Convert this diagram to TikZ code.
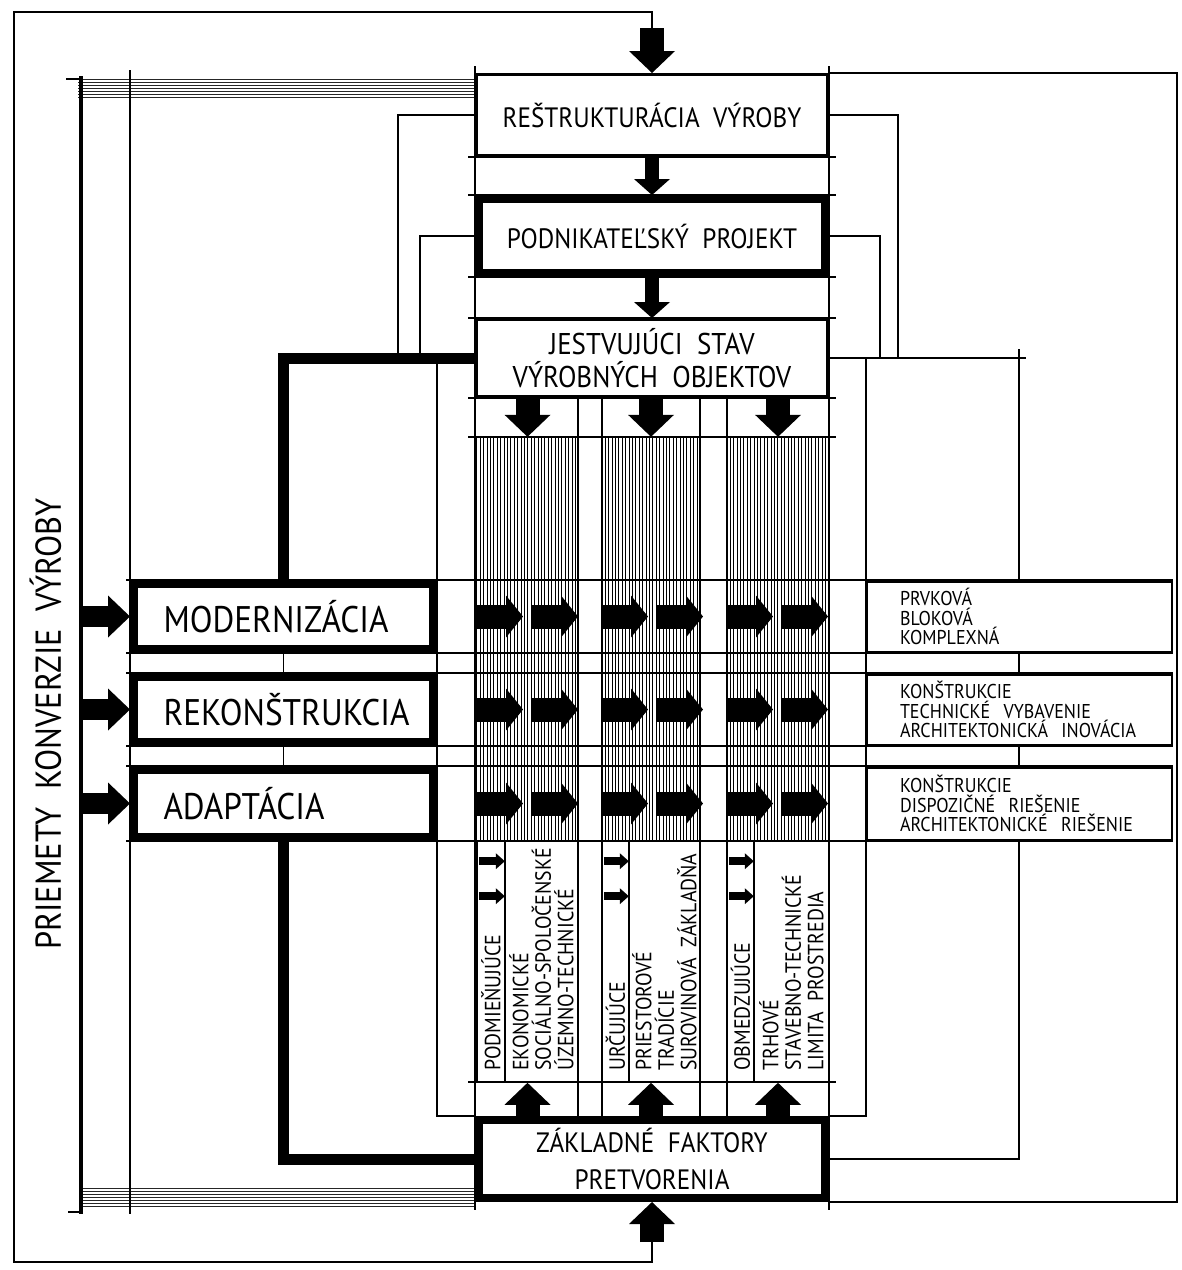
\documentclass[tikz,border=0pt]{standalone}
\usepackage{fontspec}
\setmainfont{PT Sans}[FakeStretch=0.9]
\usetikzlibrary{arrows.meta, positioning}

\newcommand{\fsz}[2]{\fontsize{#1}{#2}\selectfont}

\tikzset{
    wire/.style={line width=1.6pt},
    heavywire/.style={line width=11pt},
    bandline/.style={line width=1pt, black!85},
    hatchline/.style={line width=0.9pt},
    mainbox/.style={draw, fill=white, inner sep=0pt, align=center,
        minimum width=351pt, line width=3pt, font=\fsz{28}{33}},
    heavybox/.style={mainbox, line width=8pt, minimum width=346pt},
    modebox/.style={draw, fill=white, line width=8pt, inner sep=0pt,
        minimum width=299pt, text width=240pt, align=left, font=\fsz{37}{40}},
    sidebox/.style={draw, fill=white, line width=2.5pt, inner sep=0pt,
        minimum width=305.5pt, minimum height=70.5pt, text width=238pt,
        align=left, font=\fsz{20}{19.5}},
    hatchcol/.style={inner sep=0pt, minimum height=404pt},
    textcol/.style={draw, fill=white, line width=1.6pt, inner sep=0pt,
        minimum height=241pt},
    coltext/.style={rotate=90, inner sep=0pt, align=left, font=\fsz{22}{22.5}},
    bigarrow/.style={line width=24pt,
        -{Triangle[width=46pt, length=22pt, line width=0pt]}},
    linkarrow/.style={line width=14pt,
        -{Triangle[width=36pt, length=16pt, line width=0pt]}},
    cellarrow/.style={line width=24pt,
        -{Triangle[width=42pt, length=17pt, line width=0pt]}},
    sidearrow/.style={line width=21pt,
        -{Triangle[width=42pt, length=22pt, line width=0pt]}},
    tinyarrow/.style={line width=8pt,
        -{Triangle[width=16pt, length=9pt, line width=0pt]}},
}

\begin{document}
\begin{tikzpicture}[x=1pt, y=-1pt]
    \useasboundingbox[fill=white] (0,0) rectangle (1182,1270);

    % hatched columns
    \node[hatchcol, minimum width=101pt] (hA) at (527.5,639) {};
    \node[hatchcol, minimum width=98pt] (hB) at (651,639) {};
    \node[hatchcol, minimum width=102pt] (hC) at (778,639) {};
    \foreach \c/\n in {hA/29,hB/28,hC/29}
        \foreach \i in {0,...,\n}
            \draw[hatchline] ([xshift=\i*3.4pt]\c.north west)
                -- ([xshift=\i*3.4pt]\c.south west);

    % bands and bus lines
    \foreach \y in {79,82,...,97}
        \draw[bandline] (78,\y) -- (475,\y);
    \foreach \y in {1188,1191,...,1206}
        \draw[bandline] (80,\y) -- (475,\y);
    \coordinate (lbus) at (81,0);
    \draw[line width=3.5pt] (81,76) -- (81,1214);
    \draw[wire] (66,79) -- (81,79);
    \draw[wire] (68,1212) -- (81,1212);
    \draw[wire] (130,70) -- (130,1214);

    % central band
    \draw[wire] (475,66) -- (475,1210);
    \draw[wire] (829,66) -- (829,1210);
    \foreach \y in {157,195,277,318,398,437,1082}
        \draw[wire] (468,\y) -- (836,\y);
    \foreach \x in {578,602,700,727}
        \draw[wire] (\x,398) -- (\x,1116);
    \foreach \y in {580,653,673,746,766,841}
        \draw[wire] (126,\y) -- (1173,\y);

    % main boxes
    \node[mainbox, minimum height=81pt] (restr) at (652,115)
        {REŠTRUKTURÁCIA\ \ VÝROBY};
    \node[heavybox, minimum height=74pt] (podn) at (652,236)
        {PODNIKATEĽSKÝ\ \ PROJEKT};
    \node[mainbox, minimum height=77pt, font=\fsz{30}{33}] (jest) at (652,358)
        {JESTVUJÚCI\ \ STAV\\VÝROBNÝCH\ \ OBJEKTOV};
    \node[heavybox, minimum height=78pt] (zakl) at (652,1159)
        {ZÁKLADNÉ\ \ FAKTORY\\[4pt]PRETVORENIA};

    \node[modebox, minimum height=65pt] (modern) at (283.5,616.5) {MODERNIZÁCIA};
    \node[modebox, minimum height=65pt] (rekon) at (283.5,709.5) {REKONŠTRUKCIA};
    \node[modebox, minimum height=67pt] (adapt) at (283.5,803.5) {ADAPTÁCIA};

    \node[sidebox] (prv) at (1019,616.5)
        {PRVKOVÁ\\BLOKOVÁ\\KOMPLEXNÁ};
    \node[sidebox] (kon) at (1019,709.5)
        {KONŠTRUKCIE\\TECHNICKÉ\ \ VYBAVENIE\\ARCHITEKTONICKÁ\ \ INOVÁCIA};
    \node[sidebox, minimum height=72.5pt] (dis) at (1019,803.5)
        {KONŠTRUKCIE\\DISPOZIČNÉ\ \ RIEŠENIE\\ARCHITEKTONICKÉ\ \ RIEŠENIE};

    % factor columns
    \node[textcol, minimum width=28pt] (nA) at (491,961.5) {};
    \node[textcol, minimum width=73pt] (wA) at (541.5,961.5) {};
    \node[textcol, minimum width=27pt] (nB) at (615.5,961.5) {};
    \node[textcol, minimum width=71pt] (wB) at (664.5,961.5) {};
    \node[textcol, minimum width=27pt] (nC) at (740.5,961.5) {};
    \node[textcol, minimum width=75pt] (wC) at (791.5,961.5) {};

    \node[coltext, anchor=west] (tnA) at ([yshift=12pt]nA.south) {PODMIEŇUJÚCE};
    \node[coltext, anchor=west] (twA) at ([yshift=12pt]wA.south)
        {EKONOMICKÉ\\SOCIÁLNO-SPOLOČENSKÉ\\ÚZEMNO-TECHNICKÉ};
    \node[coltext, anchor=west] (tnB) at ([yshift=12pt]nB.south) {URČUJÚCE};
    \node[coltext, anchor=west] (twB) at ([yshift=12pt]wB.south)
        {PRIESTOROVÉ\\TRADÍCIE\\SUROVINOVÁ\ \ ZÁKLADŇA};
    \node[coltext, anchor=west] (tnC) at ([yshift=12pt]nC.south) {OBMEDZUJÚCE};
    \node[coltext, anchor=west] (twC) at ([yshift=12pt]wC.south)
        {TRHOVÉ\\STAVEBNO-TECHNICKÉ\\LIMITA\ \ PROSTREDIA};

    \node[rotate=90, font=\fsz{36}{40}] (title) at (45.5,724)
        {PRIEMETY\ \ KONVERZIE\ \ VÝROBY};

    % outer loop
    \coordinate (tin) at (652,28);
    \coordinate (bin) at (652,1242);
    \coordinate (ltop) at (14,12);
    \coordinate (lbot) at (14,1262);
    \draw[wire] (tin) |- (ltop) -- (lbot) -| (bin);
    \coordinate (rbus) at (1177,640);
    \draw[wire] (restr.north east) -| (rbus) |- (zakl.south east);

    % left wiring
    \coordinate (jl1) at (398,358);
    \coordinate (jl2) at (420,358);
    \coordinate (jl3) at (437,358);
    \draw[wire] (restr.west) -| (jl1);
    \draw[wire] (podn.west) -| (jl2);
    \draw[wire] (jl3) |- (zakl.north west);
    \draw[heavywire] (jest.west) -| (modern.north);
    \draw[wire] (modern.south) -- (rekon.north);
    \draw[wire] (rekon.south) -- (adapt.north);
    \draw[heavywire] (adapt.south) |- (zakl.west);

    % right wiring
    \coordinate (jr1) at (898,358);
    \coordinate (jr2) at (880,358);
    \coordinate (jr3) at (1019,358);
    \coordinate (jr4) at (866,358);
    \draw[wire] (restr.east) -| (jr1);
    \draw[wire] (podn.east) -| (jr2);
    \draw[wire] (jest.east) -- ([xshift=7pt]jr3);
    \draw[wire] ([yshift=9pt]jr3) -- (prv.north);
    \draw[wire] (jr4) |- (zakl.north east);
    \draw[wire] (prv.south) -- (kon.north);
    \draw[wire] (kon.south) -- (dis.north);
    \draw[wire] (dis.south) |- (zakl.east);

    % arrows
    \draw[bigarrow] (tin) -- (restr.north);
    \draw[linkarrow] (restr.south) -- (podn.north);
    \draw[linkarrow] (podn.south) -- (jest.north);
    \foreach \c in {hA,hB,hC}
        \draw[bigarrow] (jest.south -| \c.north) -- (\c.north);
    \foreach \c/\w in {hA/wA,hB/wB,hC/wC}
        \draw[bigarrow] (zakl.north -| \c) -- (\c |- \w.south);
    \draw[bigarrow] (bin) -- (zakl.south);
    \foreach \b in {modern,rekon,adapt}
        \draw[sidearrow] (\b.west -| lbus) -- (\b.west);
    \foreach \x in {477,602,727}
        \foreach \y in {616.5,709.5,803.5} {
            \draw[cellarrow] (\x,\y) -- ++(46,0);
            \draw[cellarrow] (\x+55,\y) -- ++(46,0);
        }
    \foreach \c in {nA,nB,nC}
        \foreach \d in {21pt,56pt}
            \draw[tinyarrow] ([xshift=3pt,yshift=-\d]\c.north west)
                -- ([xshift=-1pt,yshift=-\d]\c.north east);
\end{tikzpicture}
\end{document}
